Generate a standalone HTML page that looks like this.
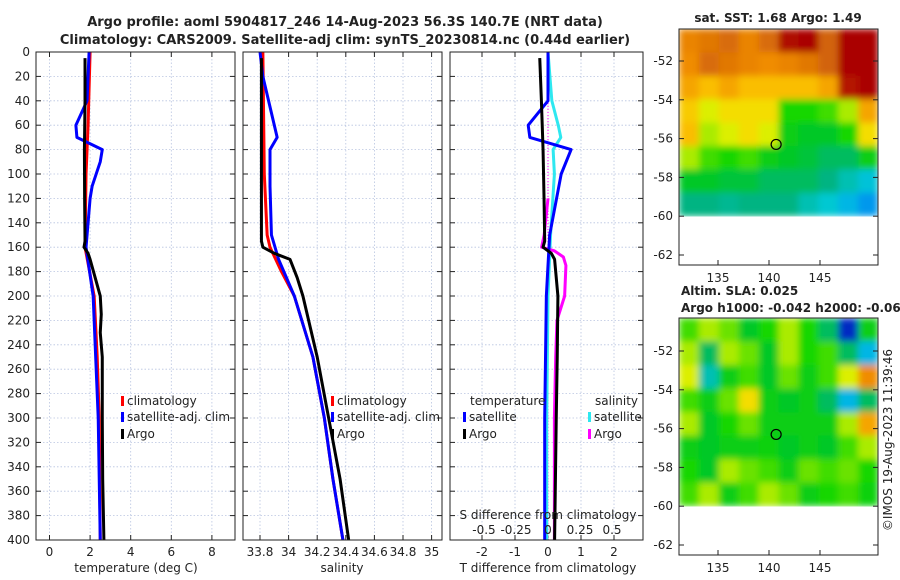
<!DOCTYPE html>
<html><head><meta charset="utf-8"><style>
body{margin:0;background:#fff}
svg{display:block;font-family:"DejaVu Sans","Liberation Sans",sans-serif}
</style></head><body>
<svg id="c" width="900" height="580" viewBox="0 0 900 580">
<defs><filter id="blur" x="0" y="0" width="1" height="1"><feGaussianBlur stdDeviation="3.5" edgeMode="duplicate"/></filter></defs>
</svg>
<script>
// ---- data ----
const depthT_argo=[5,40,80,120,155,160,165,170,185,200,215,230,250,300,350,400];
const T_argo=[1.75,1.75,1.72,1.73,1.75,1.7,1.9,2.0,2.25,2.5,2.55,2.5,2.6,2.6,2.62,2.68];
const depthT_clim=[0,60,100,160,200,250,300,400];
const T_clim=[2.0,1.9,1.8,1.75,2.2,2.35,2.45,2.5];
const depthT_sat=[0,40,60,70,80,90,110,120,160,200,300,400];
const T_sat=[1.95,1.85,1.3,1.35,2.6,2.5,2.1,2.0,1.8,2.15,2.4,2.5];
const depthS_argo=[5,100,155,160,165,170,185,200,250,300,350,400];
const S_argo=[33.81,33.81,33.81,33.82,33.9,34.01,34.06,34.1,34.2,34.28,34.36,34.42];
const depthS_clim=[0,100,150,160,180,200,250,300,350,400];
const S_clim=[33.82,33.83,33.85,33.87,33.95,34.04,34.17,34.25,34.31,34.38];
const depthS_sat=[0,20,50,70,80,110,150,170,200,250,300,350,400];
const S_sat=[33.8,33.82,33.88,33.92,33.87,33.87,33.88,33.93,34.04,34.17,34.25,34.31,34.38];
const depthD=[5,40,80,120,155,160,165,170,200,250,300,400];
const dT_argo=[-0.25,-0.2,-0.15,-0.12,-0.1,-0.15,0.1,0.2,0.3,0.28,0.25,0.2];
const depthDs=[0,40,60,70,80,100,150,200,300,400];
const dT_sat=[0,0,-0.6,-0.55,0.7,0.4,0.05,-0.05,-0.1,-0.1];
const dS_sat=[0,0.03,0.08,0.1,0.04,0.05,0.02,0,-0.01,-0.01];
const depthDm=[120,150,160,163,168,175,200,220,250,300,400];
const dS_argo=[0,-0.03,-0.05,0.05,0.12,0.14,0.13,0.07,0.06,0.05,0.05];
const tempTicks=[0,2,4,6,8];
const salTicks=[33.8,34,34.2,34.4,34.6,34.8,35];
const tdTicks=[-2,-1,0,1,2];
const sdTicks=[-0.5,-0.25,0,0.25,0.5];
const sdLabels=["-0.5","-0.25","0","0.25","0.5"];
const depthTicks=[0,20,40,60,80,100,120,140,160,180,200,220,240,260,280,300,320,340,360,380,400];
const sstGrid=[
[.72,.75,.78,.72,.78,.95,1,.8,1,1],
[.7,.78,.75,.72,.7,.72,.75,.8,1,1],
[.65,.6,.65,.6,.6,.6,.6,.65,.9,1],
[.58,.5,.55,.55,.55,.38,.38,.4,.45,.65],
[.6,.45,.5,.55,.5,.35,.33,.33,.38,.55],
[.45,.4,.38,.4,.35,.33,.32,.3,.3,.35],
[.33,.33,.32,.32,.3,.3,.3,.28,.25,.22],
[.28,.28,.27,.28,.28,.28,.25,.23,.2,.17]];
const slaGrid=[
[.4,.45,.42,.33,.38,.45,.38,.3,.1,.35],
[.45,.3,.45,.42,.33,.45,.38,.4,.3,.2],
[.5,.25,.35,.4,.33,.42,.35,.4,.5,.7],
[.4,.35,.42,.55,.35,.33,.35,.3,.2,.3],
[.45,.33,.38,.42,.35,.35,.35,.35,.45,.65],
[.35,.33,.35,.35,.36,.33,.35,.33,.4,.45],
[.38,.33,.45,.42,.4,.35,.42,.4,.42,.38],
[.4,.45,.35,.4,.45,.42,.35,.38,.4,.36]];
const lonTicks=[135,140,145];
const latTicks=[-52,-54,-56,-58,-60,-62];
const argoLon=140.7, argoLat=-56.3;

// ---- helpers ----
const svg=document.getElementById('c');
const NS='http://www.w3.org/2000/svg';
function el(tag,attrs,parent){const e=document.createElementNS(NS,tag);for(const k in attrs)e.setAttribute(k,attrs[k]);(parent||svg).appendChild(e);return e;}
function txt(x,y,s,size,anchor,weight,parent){const t=el('text',{x:x,y:y,'font-size':size,'text-anchor':anchor||'start','font-weight':weight||'normal',fill:'#222'},parent);t.textContent=s;return t;}
const yD=d=>52+d*1.22;
const xT=v=>49.5+v*20.3;
const xS=v=>260+(v-33.8)*143;
const xTd=v=>548+v*33;
const xSd=v=>548+v*128;
const xLon=l=>718+(l-135)*10.2;
const yLat1=l=>61+(-52-l)*19.4;
const yLat2=l=>351+(-52-l)*19.4;

function panel(x0,x1,name,ticks,xf,labels){
  const g=el('g',{});
  
  
  for(const d of depthTicks){el('line',{x1:x0,x2:x1,y1:yD(d),y2:yD(d),stroke:'#b8c4e0','stroke-width':0.8,'stroke-dasharray':'1.5,2'},g);}
  ticks.forEach((t,i)=>{const x=xf(t);el('line',{x1:x,x2:x,y1:52,y2:540,stroke:'#b8c4e0','stroke-width':0.8,'stroke-dasharray':'1.5,2'},g);
    el('line',{x1:x,x2:x,y1:540,y2:535,stroke:'#222'},g);el('line',{x1:x,x2:x,y1:52,y2:57,stroke:'#222'},g);
    if(labels)txt(x,556,labels[i],12,'middle',null,g);});
  for(const d of depthTicks){el('line',{x1:x0,x2:x0+5,y1:yD(d),y2:yD(d),stroke:'#222'},g);el('line',{x1:x1,x2:x1-5,y1:yD(d),y2:yD(d),stroke:'#222'},g);}
  return g;
}
function line(xs,ds,xf,color,name,w){
  const p=el('polyline',{points:xs.map((v,i)=>xf(v)+','+yD(ds[i])).join(' '),fill:'none',stroke:color,'stroke-width':w||3,'stroke-linejoin':'round'});
  
  
}
function frame(x0,y0,x1,y1){el('rect',{x:x0,y:y0,width:x1-x0,height:y1-y0,fill:'none',stroke:'#222','stroke-width':1});}

// titles
let t1=txt(345,26,'Argo profile: aoml 5904817_246 14-Aug-2023 56.3S 140.7E (NRT data)',13,'middle','bold');

let t2=txt(345,44,'Climatology: CARS2009. Satellite-adj clim: synTS_20230814.nc (0.44d earlier)',13,'middle','bold');


// panel 1
panel(36,235,'temperature-panel',tempTicks,xT,tempTicks.map(String));
for(const d of depthTicks)txt(30,yD(d)+4,String(d),12,'end');
line(T_clim,depthT_clim,xT,'#f00','temp-climatology-line');
line(T_sat,depthT_sat,xT,'#00f','temp-satellite-line');
line(T_argo,depthT_argo,xT,'#000','temp-argo-line');
frame(36,52,235,540);
txt(136,572,'temperature (deg C)',12,'middle');
// panel 2
panel(243,442,'salinity-panel',salTicks,xS,salTicks.map(String));
line(S_clim,depthS_clim,xS,'#f00','sal-climatology-line');
line(S_sat,depthS_sat,xS,'#00f','sal-satellite-line');
line(S_argo,depthS_argo,xS,'#000','sal-argo-line');
frame(243,52,442,540);
txt(342,572,'salinity',12,'middle');
// panel 3
panel(450,643,'difference-panel',tdTicks,xTd,tdTicks.map(String));
el('line',{x1:548,x2:548,y1:52,y2:540,stroke:'#f0f','stroke-width':1,'stroke-dasharray':'1,2'});
line(dS_sat,depthDs,xSd,'#2ee8f0','sal-diff-satellite-line');
line(dS_argo,depthDm,xSd,'#f0f','sal-diff-argo-line');
line(dT_sat,depthDs,xTd,'#00f','temp-diff-satellite-line');
line(dT_argo,depthD,xTd,'#000','temp-diff-argo-line');
frame(450,52,643,540);
txt(548,519,'S difference from climatology',12,'middle');
sdTicks.forEach((t,i)=>txt(xSd(t),534,sdLabels[i],12,'middle'));
txt(548,572,'T difference from climatology',12,'middle');

// legends
function leg(x,y,color,label,name){const g=el('g',{});
  el('rect',{x:x,y:y-9,width:3,height:10,fill:color},g);txt(x+6,y,label,12,'start',null,g);}
leg(121,405,'#f00','climatology','legend-climatology');
leg(121,421,'#00f','satellite-adj. clim','legend-satellite');
leg(121,438,'#000','Argo','legend-argo');
leg(331,405,'#f00','climatology','legend-sal-climatology');
leg(331,421,'#00f','satellite-adj. clim','legend-sal-satellite');
leg(331,438,'#000','Argo','legend-sal-argo');
txt(470,405,'temperature',12);
leg(463,421,'#00f','satellite','legend-t-satellite');
leg(463,438,'#000','Argo','legend-t-argo');
txt(595,405,'salinity',12);
leg(588,421,'#2ee8f0','satellite','legend-s-satellite');
leg(588,438,'#f0f','Argo','legend-s-argo');

// maps
const cstops=[[0,[0,0,120]],[0.05,[0,0,130]],[0.12,[0,60,220]],[0.18,[0,170,240]],[0.23,[0,200,210]],[0.28,[0,180,130]],[0.33,[0,200,40]],[0.38,[20,215,0]],[0.45,[170,235,0]],[0.52,[240,240,0]],[0.6,[250,190,0]],[0.7,[240,140,0]],[0.8,[210,100,10]],[0.9,[180,20,0]],[1,[170,0,0]]];
function cmap(v){
  for(let i=1;i<cstops.length;i++){if(v<=cstops[i][0]){const a=cstops[i-1],b=cstops[i],f=(v-a[0])/(b[0]-a[0]);return 'rgb('+a[1].map((c,k)=>Math.round(c+(b[1][k]-c)*f)).join(',')+')';}}return 'rgb(170,0,0)';}
function map(grid,yLat,y0,name){
  const g=el('g',{filter:'url(#blur)'});
  const lon0=(679-718)/10.2+135,lon1=(878-718)/10.2+135;
  const lat0=-52-(y0-yLat(-52))/19.4,lat1=-60;
  const nr=grid.length,nc=grid[0].length;
  grid.forEach((row,r)=>row.forEach((v,c)=>{
    const la=lat0+(lat1-lat0)*r/nr,lb=lat0+(lat1-lat0)*(r+1)/nr;
    const lo=lon0+(lon1-lon0)*c/nc,lo2=lon0+(lon1-lon0)*(c+1)/nc;
    const cell=el('rect',{x:xLon(lo),y:yLat(la),width:xLon(lo2)-xLon(lo)+0.5,height:yLat(lb)-yLat(la)+(r==nr-1?0:0.5),fill:cmap(v)},g);
    
    
  }));
  const ay=yLat(-62)+10;
  frame(679,y0,878,ay);
  for(const l of latTicks){const y=yLat(l);el('line',{x1:679,x2:684,y1:y,y2:y,stroke:'#222'});el('line',{x1:878,x2:873,y1:y,y2:y,stroke:'#222'});txt(673,y+4,String(l),12,'end');}
  for(const l of lonTicks){const x=xLon(l);el('line',{x1:x,x2:x,y1:ay,y2:ay-5,stroke:'#222'});txt(x,ay+17,String(l),12,'middle');}
  const c=el('circle',{cx:xLon(argoLon),cy:yLat(argoLat),r:5,fill:'none',stroke:'#000','stroke-width':1.2});
  
  
}
map(sstGrid,yLat1,29,'sst-map');
map(slaGrid,yLat2,318,'sla-map');
txt(778,22,'sat. SST: 1.68 Argo: 1.49',12,'middle','bold');
txt(681,295,'Altim. SLA: 0.025',12,'start','bold');
txt(681,312,'Argo h1000: -0.042 h2000: -0.063',12,'start','bold');
const cp=txt(0,0,'©IMOS 19-Aug-2023 11:39:46',12,'middle');
cp.setAttribute('transform','translate(892,440) rotate(-90)');


</script>
</body></html>
